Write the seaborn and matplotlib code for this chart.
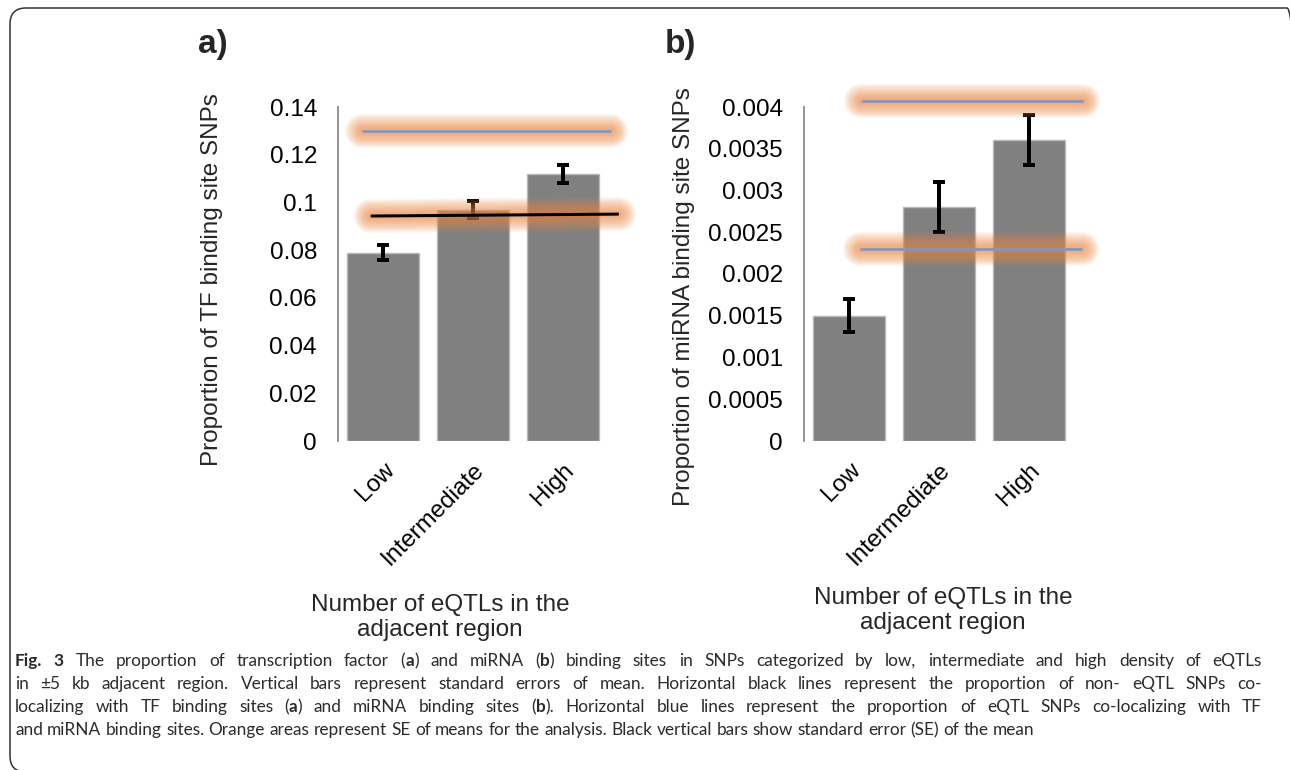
import numpy as np
import pandas as pd
import seaborn as sns
import matplotlib
matplotlib.use("Agg")
import matplotlib.pyplot as plt
from matplotlib.patches import FancyBboxPatch
from matplotlib.transforms import IdentityTransform

# ---------------- data ----------------
categories = ["Low", "Intermediate", "High"]

tf_proportion = [0.079, 0.097, 0.112]
tf_se = [0.0032, 0.0035, 0.0037]
tf_eqtl_level = 0.130
tf_non_eqtl_level = [0.0943, 0.0951]      # drawn with a slight slope

mirna_proportion = [0.0015, 0.0028, 0.0036]
mirna_se = [0.0002, 0.0003, 0.0003]
mirna_eqtl_levels = [0.00407, 0.0023]

tf_ticks = [0, 0.02, 0.04, 0.06, 0.08, 0.10, 0.12, 0.14]
tf_tick_labels = ["0", "0.02", "0.04", "0.06", "0.08", "0.1", "0.12", "0.14"]
mirna_ticks = [0, 0.0005, 0.001, 0.0015, 0.002, 0.0025, 0.003, 0.0035, 0.004]
mirna_tick_labels = ["0", "0.0005", "0.001", "0.0015", "0.002", "0.0025",
                     "0.003", "0.0035", "0.004"]

x_title = "Number of eQTLs in the\nadjacent region"
y_title_a = "Proportion of TF binding site SNPs"
y_title_b = "Proportion of miRNA binding site SNPs"

caption_lines = [
    "*Fig. 3* The proportion of transcription factor (*a*) and miRNA (*b*) binding sites in SNPs categorized by low, intermediate and high density of eQTLs",
    "in \u00b15 kb adjacent region. Vertical bars represent standard errors of mean. Horizontal black lines represent the proportion of non- eQTL SNPs co-",
    "localizing with TF binding sites (*a*) and miRNA binding sites (*b*). Horizontal blue lines represent the proportion of eQTL SNPs co-localizing with TF",
    "and miRNA binding sites. Orange areas represent SE of means for the analysis. Black vertical bars show standard error (SE) of the mean",
]

# ---------------- style ----------------
W, H = 1290, 770
PT = 72.0 / 100.0          # points per pixel at dpi 100
FS = 17.5                  # chart text size
CHART_FONT = ["Liberation Sans", "DejaVu Sans"]
CAP_FONT = ["Lato", "DejaVu Sans"]
BAR_COLOR = "#808080"
BLUE = "#8096bf"
ORANGE = "#ee8a45"
SPINE = "#8c8c8c"

sns.set_style("white")
plt.rcParams["font.family"] = CHART_FONT

fig = plt.figure(figsize=(W / 100, H / 100), dpi=100)
fig.patch.set_facecolor("white")


def px_box(left, top, right, bottom):
    return [left / W, 1 - bottom / H, (right - left) / W, (bottom - top) / H]


def glow(ax, xs, ys):
    # soft orange band: stacked round-capped strokes of decreasing width
    for w in np.linspace(34, 6, 14):
        ax.plot(xs, ys, color=ORANGE, lw=w * PT, alpha=0.07,
                solid_capstyle="round", clip_on=False, zorder=3)


def panel(ax, values, se, ticks, tick_labels, top):
    sns.barplot(x=categories, y=values, color=BAR_COLOR, saturation=1,
                width=0.79, edgecolor="#b8b8b8", linewidth=1.0,
                errorbar=None, ax=ax, zorder=1)
    pos = np.arange(len(categories))
    ax.errorbar(pos, values, yerr=se, fmt="none", ecolor="black",
                elinewidth=4 * PT, capsize=4, capthick=4 * PT, zorder=2)
    ax.set_xlim(-0.5, 2.5)
    ax.set_ylim(0, top)
    ax.set_yticks(ticks)
    ax.set_yticklabels(tick_labels)
    for s in ["top", "right", "bottom"]:
        ax.spines[s].set_visible(False)
    ax.spines["left"].set_color(SPINE)
    ax.spines["left"].set_linewidth(1.3)
    ax.tick_params(axis="y", direction="out", length=6 * PT, width=1.0,
                   color=SPINE, pad=15 * PT, labelsize=FS, labelcolor="black")
    ax.tick_params(axis="x", length=0, pad=18 * PT, labelsize=FS,
                   labelcolor="black")
    for lbl in ax.get_xticklabels():
        lbl.set_rotation(45)
        lbl.set_ha("right")
        lbl.set_va("top")
        lbl.set_rotation_mode("anchor")
    ax.set_facecolor("none")
    ax.grid(False)


# ---- panel a ----
ax_a = fig.add_axes(px_box(338, 107, 608, 441))
panel(ax_a, tf_proportion, tf_se, tf_ticks, tf_tick_labels, 0.14)
glow(ax_a, [-0.237, 2.53], [tf_eqtl_level, tf_eqtl_level])
ax_a.plot([-0.237, 2.53], [tf_eqtl_level, tf_eqtl_level], color=BLUE,
          lw=2.6 * PT, clip_on=False, zorder=4, solid_capstyle="butt")
glow(ax_a, [-0.137, 2.62], tf_non_eqtl_level)
ax_a.plot([-0.137, 2.62], tf_non_eqtl_level, color="black",
          lw=3 * PT, clip_on=False, zorder=4, solid_capstyle="butt")
ax_a.set_xlabel(x_title, fontsize=FS, ha="center", va="top")
ax_a.xaxis.set_label_coords((440 - 338) / 270, (441 - 594) / 334)
ax_a.set_ylabel(y_title_a, fontsize=FS, va="center", ha="center")
ax_a.yaxis.set_label_coords((212 - 338) / 270, (441 - 280) / 334)

# ---- panel b ----
ax_b = fig.add_axes(px_box(804, 107, 1074, 441))
panel(ax_b, mirna_proportion, mirna_se, mirna_ticks, mirna_tick_labels, 0.004)
for lvl, (x0, x1) in zip(mirna_eqtl_levels, [(0.133, 2.6), (0.122, 2.59)]):
    glow(ax_b, [x0, x1], [lvl, lvl])
    ax_b.plot([x0, x1], [lvl, lvl], color=BLUE, lw=2.6 * PT,
              clip_on=False, zorder=4, solid_capstyle="butt")
ax_b.set_xlabel(x_title, fontsize=FS, ha="center", va="top")
ax_b.xaxis.set_label_coords((943 - 804) / 270, (441 - 587) / 334)
ax_b.set_ylabel(y_title_b, fontsize=FS, va="center", ha="center")
ax_b.yaxis.set_label_coords((684 - 804) / 270, (441 - 297) / 334)

# ---- panel letters ----
fig.text(213 / W, 1 - 44 / H, "a)", fontsize=24, fontweight="bold",
         ha="center", va="center", family=CHART_FONT)
fig.text(680 / W, 1 - 44 / H, "b)", fontsize=24, fontweight="bold",
         ha="center", va="center", family=CHART_FONT)

# ---- rounded frame ----
frame = FancyBboxPatch((10, -2), 1293, 764,
                       boxstyle="round,pad=0,rounding_size=16",
                       transform=IdentityTransform(), fill=False,
                       ec="#333333", lw=1.1)
fig.add_artist(frame)

# ---- caption (justified, with bold runs marked by *) ----
CAP_FS = 12.4
CAP_COLOR = "#2b2b2b"
fig.canvas.draw()
renderer = fig.canvas.get_renderer()


def text_width(s, bold):
    t = fig.text(0, 0, s, fontsize=CAP_FS, family=CAP_FONT,
                 fontweight="bold" if bold else "normal")
    w = t.get_window_extent(renderer).width
    t.remove()
    return w


def parse_words(line):
    words, bold = [], False
    for raw in line.split(" "):
        segs = []
        for i, part in enumerate(raw.split("*")):
            if i > 0:
                bold = not bold
            if part:
                segs.append((part, bold))
        words.append(segs)
    return words


space_w = text_width("x x", False) - text_width("xx", False)
cap_left, cap_right = 15, 1262
baselines = [666, 689, 712, 735]
for li, (line, base) in enumerate(zip(caption_lines, baselines)):
    words = parse_words(line)
    widths = [[text_width(s, b) for s, b in w] for w in words]
    total = sum(sum(ws) for ws in widths)
    justify = li < len(caption_lines) - 1
    gap = (cap_right - cap_left - total) / (len(words) - 1) if justify else space_w
    x = cap_left
    for segs, ws in zip(words, widths):
        for (s, b), w in zip(segs, ws):
            fig.text(x / W, 1 - base / H, s, fontsize=CAP_FS, family=CAP_FONT,
                     fontweight="bold" if b else "normal", color=CAP_COLOR,
                     ha="left", va="baseline")
            x += w
        x += gap

fig.savefig("out.png", dpi=100, facecolor="white")
